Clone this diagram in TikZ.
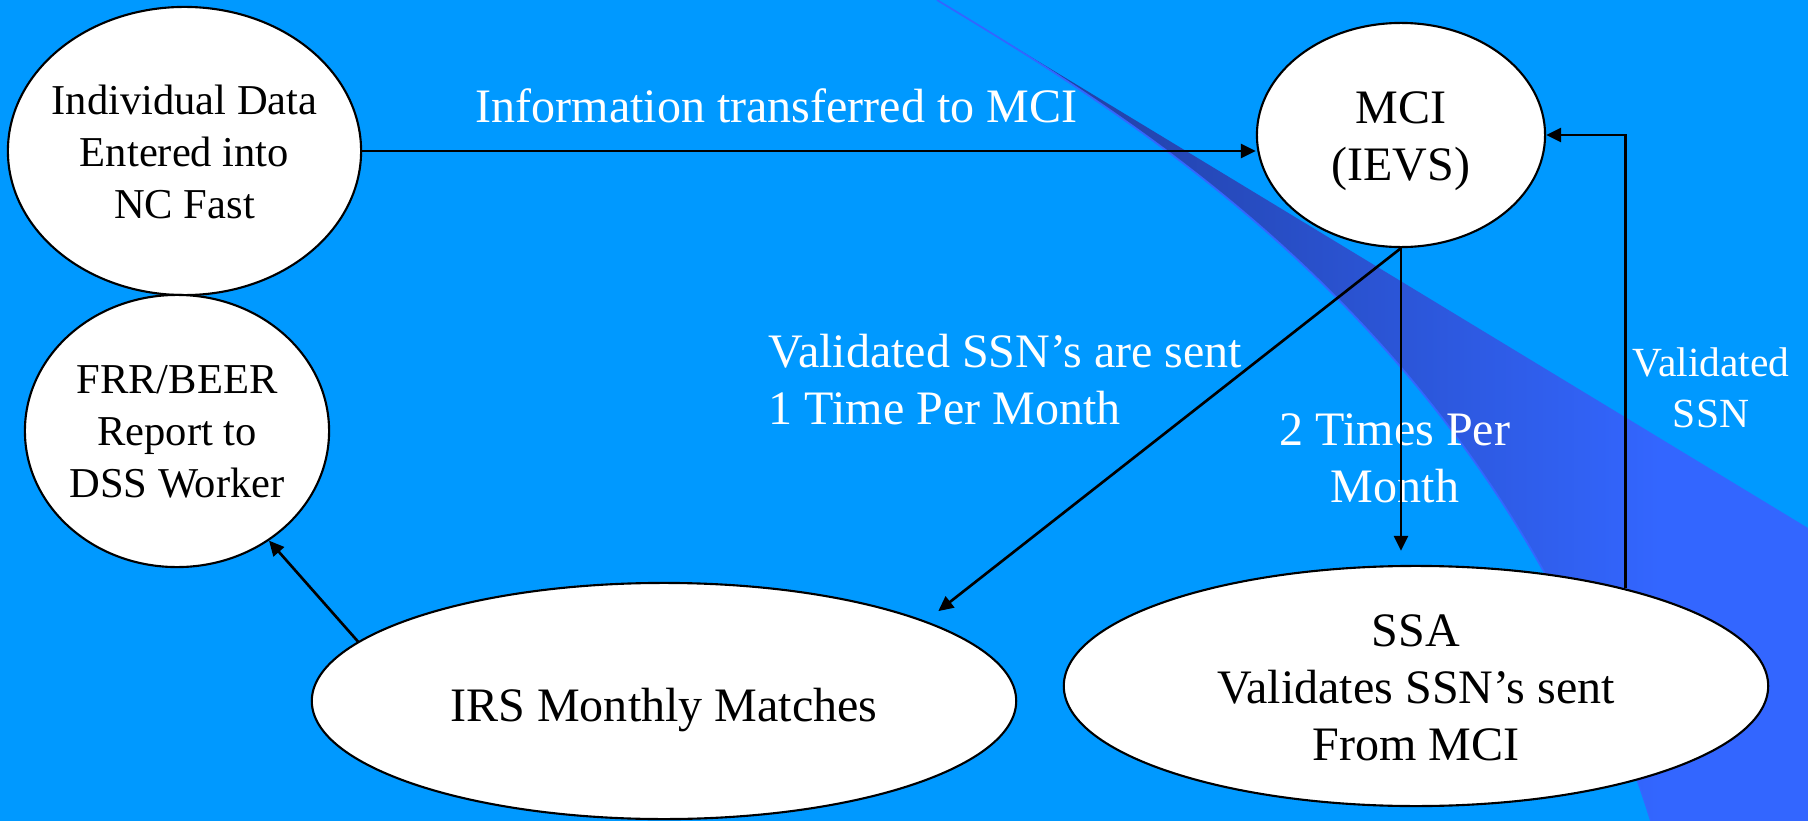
\documentclass[tikz,border=0pt]{standalone}
\usepackage{fontspec}
\setmainfont{Liberation Serif}
\usetikzlibrary{shapes.geometric,arrows.meta}
\definecolor{bgblue}{RGB}{0,153,255}
\definecolor{navyband}{RGB}{30,56,145}
\definecolor{brightband}{RGB}{51,102,255}
\begin{document}
\begin{tikzpicture}[x=0.01cm,y=-0.01cm,
  oval/.style={ellipse, draw=black, line width=0.6pt, fill=white, inner sep=0pt},
  smalltxt/.style={font=\fontsize{12.1pt}{14.8pt}\selectfont, align=center, inner sep=0pt, text=black},
  bigtxt/.style={font=\fontsize{13.66pt}{16.2pt}\selectfont, align=center, inner sep=0pt, text=black},
  lbl/.style={font=\fontsize{13.66pt}{16.2pt}\selectfont, inner sep=0pt, text=white},
  lblsmall/.style={font=\fontsize{11.8pt}{14.5pt}\selectfont, inner sep=0pt, text=white},
  arr/.style={-{Triangle[length=0.15cm,width=0.14cm]}, line width=0.75pt, draw=black}]

\useasboundingbox (0,0) rectangle (1808,821);
\fill[bgblue] (0,0) rectangle (1808,821);

% decorative swoosh
\begin{scope}
  \clip (937,0) -- (1808,528) -- (1808,821) -- (1651,821) .. controls (1500,340) and (1150,129) .. (937,0) -- cycle;
  \shade[left color=navyband, right color=brightband] (937,0) rectangle (1660,821);
  \fill[brightband] (1659,0) rectangle (1808,821);
\end{scope}
\draw[brightband, line width=0.5pt] (937,0) .. controls (1150,129) and (1500,340) .. (1651,821);

% ellipses
\node[oval, minimum width=3.53cm, minimum height=2.88cm] (ind) at (184.5,151) {};
\node[oval, minimum width=3.04cm, minimum height=2.72cm] (frr) at (177,431) {};
\node[oval, minimum width=2.88cm, minimum height=2.24cm] (mci) at (1401,135) {};
\node[oval, minimum width=7.04cm, minimum height=2.40cm] (ssa) at (1416,686) {};
\node[oval, minimum width=7.04cm, minimum height=2.36cm] (irs) at (664,701) {};

% ellipse texts
\node[smalltxt] (indT) at (184.5,152) {Individual Data\\Entered into\\NC Fast};
\node[smalltxt] (frrT) at (177,432) {FRR/BEER\\Report to\\DSS Worker};
\node[bigtxt] (mciT) at (1401,141) {MCI\\(IEVS)};
\node[bigtxt] (ssaT) at (1416,687.5) {SSA\\Validates SSN’s sent\\From MCI};
\node[bigtxt, anchor=base] (irsT) at (664,721) {IRS Monthly Matches};

% connector labels
\node[lbl, anchor=base] (lInfo) at (776.5,122) {Information transferred to MCI};
\node[lbl, align=left, anchor=west] (lVal) at (768,380) {Validated SSN’s are sent\\1 Time Per Month};
\node[lbl, align=center] (lTwo) at (1395,458.5) {2 Times Per\\Month};
\node[lblsmall, align=center] (lSsn) at (1711,388) {Validated\\SSN};

% connectors
\draw[arr] (ind.east) -- (ind.east -| mci.west);
\draw[arr] (ssa.25) |- (mci.east);
\draw[arr, shorten >=0.14cm] (mci.south) -- (mci.south |- ssa.north);
\draw[arr, shorten >=0.16cm] (mci.south) -- (irs.17);
\draw[arr] (irs.169) -- (frr.-50);
\end{tikzpicture}
\end{document}
